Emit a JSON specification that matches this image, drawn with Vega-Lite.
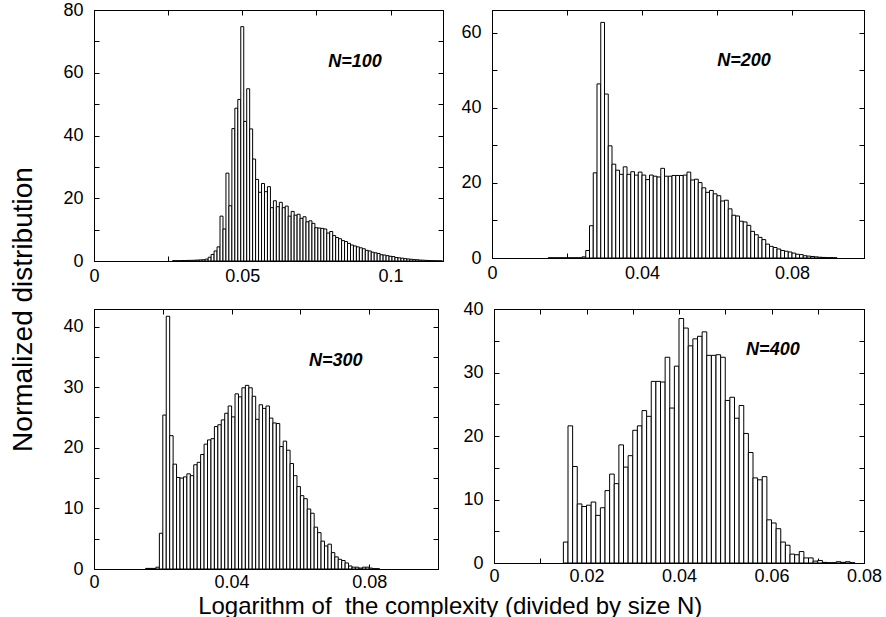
{
"$schema": "https://vega.github.io/schema/vega-lite/v6.json",
"padding": {"left": 10, "top": 0, "right": 0, "bottom": 0},
"background": "white",
"title": {"text": "Normalized distribution", "orient": "left", "anchor": "middle", "fontSize": 28, "font": "Liberation Sans", "fontWeight": "normal", "color": "black", "offset": 24},
"datasets": {
"n100": [
{"lo":0.0265,"hi":0.0275,"v":0.1},{"lo":0.0275,"hi":0.0285,"v":0.1},{"lo":0.0285,"hi":0.0295,"v":0.1},{"lo":0.0295,"hi":0.0305,"v":0.15},{"lo":0.0305,"hi":0.0315,"v":0.15},{"lo":0.0315,"hi":0.0325,"v":0.2},{"lo":0.0325,"hi":0.0335,"v":0.2},{"lo":0.0335,"hi":0.0345,"v":0.25},{"lo":0.0345,"hi":0.0355,"v":0.3},{"lo":0.0355,"hi":0.0365,"v":0.35},{"lo":0.0365,"hi":0.0375,"v":0.4},
{"lo":0.0375,"hi":0.0385,"v":0.6},{"lo":0.0385,"hi":0.0395,"v":1.2},{"lo":0.0395,"hi":0.0405,"v":2.1},{"lo":0.0405,"hi":0.0415,"v":3.2},{"lo":0.0415,"hi":0.0425,"v":4.5},{"lo":0.0425,"hi":0.0435,"v":14.3},{"lo":0.0435,"hi":0.0445,"v":10.2},{"lo":0.0445,"hi":0.0455,"v":28},{"lo":0.0455,"hi":0.0465,"v":17.6},{"lo":0.0465,"hi":0.0475,"v":42.2},
{"lo":0.0475,"hi":0.0485,"v":48.7},{"lo":0.0485,"hi":0.0495,"v":51.5},{"lo":0.0495,"hi":0.0505,"v":74.7},{"lo":0.0505,"hi":0.0515,"v":44.5},{"lo":0.0515,"hi":0.0525,"v":54.9},{"lo":0.0525,"hi":0.0535,"v":42.1},{"lo":0.0535,"hi":0.0545,"v":32.5},{"lo":0.0545,"hi":0.0555,"v":26.0},{"lo":0.0555,"hi":0.0565,"v":21.9},{"lo":0.0565,"hi":0.0575,"v":24.7},
{"lo":0.0575,"hi":0.0585,"v":22.1},{"lo":0.0585,"hi":0.0595,"v":23.7},{"lo":0.0595,"hi":0.0605,"v":17.0},{"lo":0.0605,"hi":0.0615,"v":19.2},{"lo":0.0615,"hi":0.0625,"v":17.3},{"lo":0.0625,"hi":0.0635,"v":18.7},{"lo":0.0635,"hi":0.0645,"v":17.0},{"lo":0.0645,"hi":0.0655,"v":17.5},{"lo":0.0655,"hi":0.0665,"v":14.3},{"lo":0.0665,"hi":0.0675,"v":15.8},
{"lo":0.0675,"hi":0.0685,"v":14.6},{"lo":0.0685,"hi":0.0695,"v":14.9},{"lo":0.0695,"hi":0.0705,"v":13.6},{"lo":0.0705,"hi":0.0715,"v":14.1},{"lo":0.0715,"hi":0.0725,"v":12.5},{"lo":0.0725,"hi":0.0735,"v":12.8},{"lo":0.0735,"hi":0.0745,"v":12.0},{"lo":0.0745,"hi":0.0755,"v":10.6},{"lo":0.0755,"hi":0.0765,"v":10.5},{"lo":0.0765,"hi":0.0775,"v":10.4},
{"lo":0.0775,"hi":0.0785,"v":10.2},{"lo":0.0785,"hi":0.0795,"v":8.9},{"lo":0.0795,"hi":0.0805,"v":9.4},{"lo":0.0805,"hi":0.0815,"v":8.1},{"lo":0.0815,"hi":0.0825,"v":7.5},{"lo":0.0825,"hi":0.0835,"v":7.1},{"lo":0.0835,"hi":0.0845,"v":6.5},{"lo":0.0845,"hi":0.0855,"v":6.2},{"lo":0.0855,"hi":0.0865,"v":5.6},{"lo":0.0865,"hi":0.0875,"v":5.1},
{"lo":0.0875,"hi":0.0885,"v":4.8},{"lo":0.0885,"hi":0.0895,"v":4.5},{"lo":0.0895,"hi":0.0905,"v":4.2},{"lo":0.0905,"hi":0.0915,"v":3.9},{"lo":0.0915,"hi":0.0925,"v":3.4},{"lo":0.0925,"hi":0.0935,"v":3.2},{"lo":0.0935,"hi":0.0945,"v":2.8},{"lo":0.0945,"hi":0.0955,"v":2.6},{"lo":0.0955,"hi":0.0965,"v":2.4},{"lo":0.0965,"hi":0.0975,"v":2.0},
{"lo":0.0975,"hi":0.0985,"v":1.9},{"lo":0.0985,"hi":0.0995,"v":1.7},{"lo":0.0995,"hi":0.1005,"v":1.5},{"lo":0.1005,"hi":0.1015,"v":1.4},{"lo":0.1015,"hi":0.1025,"v":1.1},{"lo":0.1025,"hi":0.1035,"v":1.0},{"lo":0.1035,"hi":0.1045,"v":0.9},{"lo":0.1045,"hi":0.1055,"v":0.75},{"lo":0.1055,"hi":0.1065,"v":0.65},{"lo":0.1065,"hi":0.1075,"v":0.55},
{"lo":0.1075,"hi":0.1085,"v":0.45},{"lo":0.1085,"hi":0.1095,"v":0.4},{"lo":0.1095,"hi":0.1105,"v":0.3},{"lo":0.1105,"hi":0.1115,"v":0.25},{"lo":0.1115,"hi":0.1125,"v":0.2},{"lo":0.1125,"hi":0.1135,"v":0.15},{"lo":0.1135,"hi":0.1145,"v":0.1},{"lo":0.1145,"hi":0.1155,"v":0.08},{"lo":0.1155,"hi":0.1165,"v":0.05},{"lo":0.1165,"hi":0.1175,"v":0.04}
],
"n200": [
{"lo":0.015,"hi":0.016,"v":0.05},{"lo":0.016,"hi":0.017,"v":0.05},{"lo":0.017,"hi":0.018,"v":0.05},{"lo":0.018,"hi":0.019,"v":0.05},{"lo":0.019,"hi":0.020,"v":0.05},{"lo":0.020,"hi":0.021,"v":0.05},{"lo":0.021,"hi":0.022,"v":0.05},{"lo":0.022,"hi":0.023,"v":0.05},{"lo":0.023,"hi":0.024,"v":0.05},{"lo":0.024,"hi":0.025,"v":0.3},
{"lo":0.025,"hi":0.026,"v":2.0},{"lo":0.026,"hi":0.027,"v":8.6},{"lo":0.027,"hi":0.028,"v":22.7},{"lo":0.028,"hi":0.029,"v":46.4},{"lo":0.029,"hi":0.030,"v":62.8},{"lo":0.030,"hi":0.031,"v":43.7},{"lo":0.031,"hi":0.032,"v":29.9},{"lo":0.032,"hi":0.033,"v":25.0},{"lo":0.033,"hi":0.034,"v":23.4},{"lo":0.034,"hi":0.035,"v":22.3},
{"lo":0.035,"hi":0.036,"v":24.3},{"lo":0.036,"hi":0.037,"v":22.3},{"lo":0.037,"hi":0.038,"v":23.0},{"lo":0.038,"hi":0.039,"v":22.1},{"lo":0.039,"hi":0.040,"v":22.9},{"lo":0.040,"hi":0.041,"v":22.1},{"lo":0.041,"hi":0.042,"v":20.9},{"lo":0.042,"hi":0.043,"v":22.1},{"lo":0.043,"hi":0.044,"v":21.8},{"lo":0.044,"hi":0.045,"v":21.6},
{"lo":0.045,"hi":0.046,"v":23.9},{"lo":0.046,"hi":0.047,"v":21.8},{"lo":0.047,"hi":0.048,"v":21.8},{"lo":0.048,"hi":0.049,"v":22.0},{"lo":0.049,"hi":0.050,"v":22.0},{"lo":0.050,"hi":0.051,"v":22.0},{"lo":0.051,"hi":0.052,"v":22.1},{"lo":0.052,"hi":0.053,"v":22.9},{"lo":0.053,"hi":0.054,"v":20.8},{"lo":0.054,"hi":0.055,"v":21.0},
{"lo":0.055,"hi":0.056,"v":20.1},{"lo":0.056,"hi":0.057,"v":18.7},{"lo":0.057,"hi":0.058,"v":17.5},{"lo":0.058,"hi":0.059,"v":18.0},{"lo":0.059,"hi":0.060,"v":17.1},{"lo":0.060,"hi":0.061,"v":16.6},{"lo":0.061,"hi":0.062,"v":15.2},{"lo":0.062,"hi":0.063,"v":15.4},{"lo":0.063,"hi":0.064,"v":13.1},{"lo":0.064,"hi":0.065,"v":11.4},
{"lo":0.065,"hi":0.066,"v":11.2},{"lo":0.066,"hi":0.067,"v":9.8},{"lo":0.067,"hi":0.068,"v":9.6},{"lo":0.068,"hi":0.069,"v":8.7},{"lo":0.069,"hi":0.070,"v":7.1},{"lo":0.070,"hi":0.071,"v":6.2},{"lo":0.071,"hi":0.072,"v":5.5},{"lo":0.072,"hi":0.073,"v":4.9},{"lo":0.073,"hi":0.074,"v":3.7},{"lo":0.074,"hi":0.075,"v":3.1},
{"lo":0.075,"hi":0.076,"v":2.8},{"lo":0.076,"hi":0.077,"v":2.4},{"lo":0.077,"hi":0.078,"v":2.0},{"lo":0.078,"hi":0.079,"v":1.8},{"lo":0.079,"hi":0.080,"v":1.6},{"lo":0.080,"hi":0.081,"v":1.3},{"lo":0.081,"hi":0.082,"v":1.0},{"lo":0.082,"hi":0.083,"v":0.9},{"lo":0.083,"hi":0.084,"v":0.6},{"lo":0.084,"hi":0.085,"v":0.5},
{"lo":0.085,"hi":0.086,"v":0.4},{"lo":0.086,"hi":0.087,"v":0.3},{"lo":0.087,"hi":0.088,"v":0.2},{"lo":0.088,"hi":0.089,"v":0.15},{"lo":0.089,"hi":0.090,"v":0.1},{"lo":0.090,"hi":0.091,"v":0.1},{"lo":0.091,"hi":0.092,"v":0.05}
],
"n300": [
{"lo":0.015,"hi":0.016,"v":0.1},{"lo":0.016,"hi":0.017,"v":0.1},{"lo":0.017,"hi":0.018,"v":0.1},{"lo":0.018,"hi":0.019,"v":0.3},{"lo":0.019,"hi":0.020,"v":5.9},{"lo":0.020,"hi":0.021,"v":25.4},{"lo":0.021,"hi":0.022,"v":41.7},{"lo":0.022,"hi":0.023,"v":22.0},{"lo":0.023,"hi":0.024,"v":17.3},{"lo":0.024,"hi":0.025,"v":15.1},
{"lo":0.025,"hi":0.026,"v":15.0},{"lo":0.026,"hi":0.027,"v":15.2},{"lo":0.027,"hi":0.028,"v":15.7},{"lo":0.028,"hi":0.029,"v":15.4},{"lo":0.029,"hi":0.030,"v":17.2},{"lo":0.030,"hi":0.031,"v":17.6},{"lo":0.031,"hi":0.032,"v":18.9},{"lo":0.032,"hi":0.033,"v":20.6},{"lo":0.033,"hi":0.034,"v":21.3},{"lo":0.034,"hi":0.035,"v":21.5},
{"lo":0.035,"hi":0.036,"v":23.5},{"lo":0.036,"hi":0.037,"v":23.8},{"lo":0.037,"hi":0.038,"v":24.6},{"lo":0.038,"hi":0.039,"v":25.7},{"lo":0.039,"hi":0.040,"v":26.9},{"lo":0.040,"hi":0.041,"v":25.1},{"lo":0.041,"hi":0.042,"v":28.9},{"lo":0.042,"hi":0.043,"v":28.4},{"lo":0.043,"hi":0.044,"v":29.9},{"lo":0.044,"hi":0.045,"v":30.3},
{"lo":0.045,"hi":0.046,"v":29.9},{"lo":0.046,"hi":0.047,"v":28.5},{"lo":0.047,"hi":0.048,"v":24.7},{"lo":0.048,"hi":0.049,"v":27.1},{"lo":0.049,"hi":0.050,"v":26.5},{"lo":0.050,"hi":0.051,"v":26.9},{"lo":0.051,"hi":0.052,"v":24.9},{"lo":0.052,"hi":0.053,"v":24.1},{"lo":0.053,"hi":0.054,"v":24.0},{"lo":0.054,"hi":0.055,"v":20.2},
{"lo":0.055,"hi":0.056,"v":21.1},{"lo":0.056,"hi":0.057,"v":19.6},{"lo":0.057,"hi":0.058,"v":17.4},{"lo":0.058,"hi":0.059,"v":15.4},{"lo":0.059,"hi":0.060,"v":13.6},{"lo":0.060,"hi":0.061,"v":12.1},{"lo":0.061,"hi":0.062,"v":11.6},{"lo":0.062,"hi":0.063,"v":9.9},{"lo":0.063,"hi":0.064,"v":9.2},{"lo":0.064,"hi":0.065,"v":6.9},
{"lo":0.065,"hi":0.066,"v":6.0},{"lo":0.066,"hi":0.067,"v":4.6},{"lo":0.067,"hi":0.068,"v":3.8},{"lo":0.068,"hi":0.069,"v":4.1},{"lo":0.069,"hi":0.070,"v":2.7},{"lo":0.070,"hi":0.071,"v":2.0},{"lo":0.071,"hi":0.072,"v":1.6},{"lo":0.072,"hi":0.073,"v":1.4},{"lo":0.073,"hi":0.074,"v":1.0},{"lo":0.074,"hi":0.075,"v":0.5},
{"lo":0.075,"hi":0.076,"v":0.3},{"lo":0.076,"hi":0.077,"v":0.3},{"lo":0.077,"hi":0.078,"v":0.15},{"lo":0.078,"hi":0.079,"v":0.3},{"lo":0.079,"hi":0.080,"v":0.3},{"lo":0.080,"hi":0.081,"v":0.15},{"lo":0.081,"hi":0.082,"v":0.05},{"lo":0.082,"hi":0.083,"v":0.05}
],
"n400": [
{"lo":0.015,"hi":0.016,"v":3.3},{"lo":0.016,"hi":0.017,"v":21.6},{"lo":0.017,"hi":0.018,"v":15.2},{"lo":0.018,"hi":0.019,"v":9.3},{"lo":0.019,"hi":0.020,"v":8.9},{"lo":0.020,"hi":0.021,"v":9.1},{"lo":0.021,"hi":0.022,"v":9.6},{"lo":0.022,"hi":0.023,"v":7.5},{"lo":0.023,"hi":0.024,"v":8.7},{"lo":0.024,"hi":0.025,"v":11.4},
{"lo":0.025,"hi":0.026,"v":14.0},{"lo":0.026,"hi":0.027,"v":12.5},{"lo":0.027,"hi":0.028,"v":18.6},{"lo":0.028,"hi":0.029,"v":15.1},{"lo":0.029,"hi":0.030,"v":16.9},{"lo":0.030,"hi":0.031,"v":20.9},{"lo":0.031,"hi":0.032,"v":21.6},{"lo":0.032,"hi":0.033,"v":24.0},{"lo":0.033,"hi":0.034,"v":23.1},{"lo":0.034,"hi":0.035,"v":28.6},
{"lo":0.035,"hi":0.036,"v":28.6},{"lo":0.036,"hi":0.037,"v":28.5},{"lo":0.037,"hi":0.038,"v":32.4},{"lo":0.038,"hi":0.039,"v":24.4},{"lo":0.039,"hi":0.040,"v":31.0},{"lo":0.040,"hi":0.041,"v":38.5},{"lo":0.041,"hi":0.042,"v":37.0},{"lo":0.042,"hi":0.043,"v":34.2},{"lo":0.043,"hi":0.044,"v":35.3},{"lo":0.044,"hi":0.045,"v":35.7},
{"lo":0.045,"hi":0.046,"v":36.4},{"lo":0.046,"hi":0.047,"v":32.7},{"lo":0.047,"hi":0.048,"v":32.7},{"lo":0.048,"hi":0.049,"v":32.8},{"lo":0.049,"hi":0.050,"v":32.4},{"lo":0.050,"hi":0.051,"v":25.6},{"lo":0.051,"hi":0.052,"v":26.1},{"lo":0.052,"hi":0.053,"v":22.8},{"lo":0.053,"hi":0.054,"v":24.8},{"lo":0.054,"hi":0.055,"v":20.4},
{"lo":0.055,"hi":0.056,"v":17.4},{"lo":0.056,"hi":0.057,"v":13.4},{"lo":0.057,"hi":0.058,"v":13.1},{"lo":0.058,"hi":0.059,"v":13.6},{"lo":0.059,"hi":0.060,"v":6.8},{"lo":0.060,"hi":0.061,"v":6.3},{"lo":0.061,"hi":0.062,"v":5.4},{"lo":0.062,"hi":0.063,"v":3.3},{"lo":0.063,"hi":0.064,"v":2.8},{"lo":0.064,"hi":0.065,"v":1.4},
{"lo":0.065,"hi":0.066,"v":1.3},{"lo":0.066,"hi":0.067,"v":1.8},{"lo":0.067,"hi":0.068,"v":0.8},{"lo":0.068,"hi":0.069,"v":0.8},{"lo":0.069,"hi":0.070,"v":0.3},{"lo":0.070,"hi":0.071,"v":0.4},{"lo":0.071,"hi":0.072,"v":0.1},{"lo":0.072,"hi":0.073,"v":0.05},{"lo":0.073,"hi":0.074,"v":0.05},{"lo":0.074,"hi":0.075,"v":0.2},
{"lo":0.075,"hi":0.076,"v":0.1},{"lo":0.076,"hi":0.077,"v":0.2},{"lo":0.077,"hi":0.078,"v":0.05}
]
},
"vconcat": [
{
"title": {"text": "Logarithm of \u00a0the complexity (divided by size N)", "orient": "bottom", "anchor": "middle", "fontSize": 24, "font": "Liberation Sans", "fontWeight": "normal", "color": "black", "offset": 3, "dx": -22},
"spacing": 13,
"vconcat": [
{"spacing": 49, "bounds": "flush", "hconcat": [
{"width": 349, "height": 251, "data": {"name": "n100"},
 "layer": [
  {"mark": {"type": "rect", "fill": "white", "stroke": "black", "strokeWidth": 1},
   "encoding": {
    "x": {"field": "lo", "type": "quantitative", "title": null, "scale": {"domain": [0, 0.1177], "nice": false, "zero": false},
          "axis": {"orient": "bottom", "values": [0, 0.025, 0.05, 0.075, 0.1], "labelExpr": "abs(datum.value*20 - round(datum.value*20)) < 0.01 ? format(datum.value, '~g') : ''"}},
    "x2": {"field": "hi"},
    "y": {"field": "v", "type": "quantitative", "title": null, "scale": {"domain": [0, 80], "nice": false},
          "axis": {"orient": "left", "values": [0,10,20,30,40,50,60,70,80], "labelExpr": "datum.value % 20 == 0 ? datum.label : ''"}},
    "y2": {"datum": 0}}},
  {"mark": {"type": "rect", "opacity": 0},
   "encoding": {
    "x": {"field": "lo", "type": "quantitative", "title": null, "axis": {"orient": "top", "labels": false, "values": [0, 0.025, 0.05, 0.075, 0.1]}},
    "x2": {"field": "hi"},
    "y": {"field": "v", "type": "quantitative", "title": null, "axis": {"orient": "right", "labels": false, "values": [0,10,20,30,40,50,60,70,80]}},
    "y2": {"datum": 0}}},
  {"data": {"values": [{"x": 0.088, "y": 63.4, "t": "N=100"}]},
   "mark": {"type": "text", "font": "Liberation Sans", "fontSize": 18, "fontWeight": "bold", "fontStyle": "italic", "align": "center", "baseline": "middle", "color": "black"},
   "encoding": {"x": {"field": "x", "type": "quantitative", "axis": null}, "y": {"field": "y", "type": "quantitative", "axis": null}, "text": {"field": "t"}}}
 ],
 "resolve": {"axis": {"x": "independent", "y": "independent"}}},
{"width": 372, "height": 248, "data": {"name": "n200"},
 "layer": [
  {"mark": {"type": "rect", "fill": "white", "stroke": "black", "strokeWidth": 1},
   "encoding": {
    "x": {"field": "lo", "type": "quantitative", "title": null, "scale": {"domain": [0, 0.0992], "nice": false, "zero": false},
          "axis": {"orient": "bottom", "values": [0, 0.02, 0.04, 0.06, 0.08], "labelExpr": "abs(datum.value*25 - round(datum.value*25)) < 0.01 ? format(datum.value, '~g') : ''"}},
    "x2": {"field": "hi"},
    "y": {"field": "v", "type": "quantitative", "title": null, "scale": {"domain": [0, 66.1], "nice": false},
          "axis": {"orient": "left", "values": [0,10,20,30,40,50,60], "labelExpr": "datum.value % 20 == 0 ? datum.label : ''"}},
    "y2": {"datum": 0}}},
  {"mark": {"type": "rect", "opacity": 0},
   "encoding": {
    "x": {"field": "lo", "type": "quantitative", "title": null, "axis": {"orient": "top", "labels": false, "values": [0, 0.02, 0.04, 0.06, 0.08]}},
    "x2": {"field": "hi"},
    "y": {"field": "v", "type": "quantitative", "title": null, "axis": {"orient": "right", "labels": false, "values": [0,10,20,30,40,50,60]}},
    "y2": {"datum": 0}}},
  {"data": {"values": [{"x": 0.0672, "y": 52.6, "t": "N=200"}]},
   "mark": {"type": "text", "font": "Liberation Sans", "fontSize": 18, "fontWeight": "bold", "fontStyle": "italic", "align": "center", "baseline": "middle", "color": "black"},
   "encoding": {"x": {"field": "x", "type": "quantitative", "axis": null}, "y": {"field": "y", "type": "quantitative", "axis": null}, "text": {"field": "t"}}}
 ],
 "resolve": {"axis": {"x": "independent", "y": "independent"}}}
]},
{"spacing": 56, "bounds": "flush", "hconcat": [
{"width": 344, "height": 260, "data": {"name": "n300"},
 "layer": [
  {"mark": {"type": "rect", "fill": "white", "stroke": "black", "strokeWidth": 1},
   "encoding": {
    "x": {"field": "lo", "type": "quantitative", "title": null, "scale": {"domain": [0, 0.1], "nice": false, "zero": false},
          "axis": {"orient": "bottom", "labelPadding": 9, "values": [0, 0.02, 0.04, 0.06, 0.08], "labelExpr": "abs(datum.value*25 - round(datum.value*25)) < 0.01 ? format(datum.value, '~g') : ''"}},
    "x2": {"field": "hi"},
    "y": {"field": "v", "type": "quantitative", "title": null, "scale": {"domain": [0, 42.9], "nice": false},
          "axis": {"orient": "left", "values": [0,5,10,15,20,25,30,35,40], "labelExpr": "datum.value % 10 == 0 ? datum.label : ''"}},
    "y2": {"datum": 0}}},
  {"mark": {"type": "rect", "opacity": 0},
   "encoding": {
    "x": {"field": "lo", "type": "quantitative", "title": null, "axis": {"orient": "top", "labels": false, "values": [0, 0.02, 0.04, 0.06, 0.08]}},
    "x2": {"field": "hi"},
    "y": {"field": "v", "type": "quantitative", "title": null, "axis": {"orient": "right", "labels": false, "values": [0,5,10,15,20,25,30,35,40]}},
    "y2": {"datum": 0}}},
  {"data": {"values": [{"x": 0.0703, "y": 34.4, "t": "N=300"}]},
   "mark": {"type": "text", "font": "Liberation Sans", "fontSize": 18, "fontWeight": "bold", "fontStyle": "italic", "align": "center", "baseline": "middle", "color": "black"},
   "encoding": {"x": {"field": "x", "type": "quantitative", "axis": null}, "y": {"field": "y", "type": "quantitative", "axis": null}, "text": {"field": "t"}}}
 ],
 "resolve": {"axis": {"x": "independent", "y": "independent"}}},
{"width": 370, "height": 254, "data": {"name": "n400"},
 "layer": [
  {"mark": {"type": "rect", "fill": "white", "stroke": "black", "strokeWidth": 1},
   "encoding": {
    "x": {"field": "lo", "type": "quantitative", "title": null, "scale": {"domain": [0, 0.08], "nice": false, "zero": false},
          "axis": {"orient": "bottom", "labelPadding": 9, "values": [0, 0.01, 0.02, 0.03, 0.04, 0.05, 0.06, 0.07, 0.08], "labelExpr": "abs(datum.value*50 - round(datum.value*50)) < 0.01 ? format(datum.value, '~g') : ''"}},
    "x2": {"field": "hi"},
    "y": {"field": "v", "type": "quantitative", "title": null, "scale": {"domain": [0, 40], "nice": false},
          "axis": {"orient": "left", "values": [0,5,10,15,20,25,30,35,40], "labelExpr": "datum.value % 10 == 0 ? datum.label : ''"}},
    "y2": {"datum": 0}}},
  {"mark": {"type": "rect", "opacity": 0},
   "encoding": {
    "x": {"field": "lo", "type": "quantitative", "title": null, "axis": {"orient": "top", "labels": false, "values": [0, 0.01, 0.02, 0.03, 0.04, 0.05, 0.06, 0.07, 0.08]}},
    "x2": {"field": "hi"},
    "y": {"field": "v", "type": "quantitative", "title": null, "axis": {"orient": "right", "labels": false, "values": [0,5,10,15,20,25,30,35,40]}},
    "y2": {"datum": 0}}},
  {"data": {"values": [{"x": 0.0603, "y": 33.5, "t": "N=400"}]},
   "mark": {"type": "text", "font": "Liberation Sans", "fontSize": 18, "fontWeight": "bold", "fontStyle": "italic", "align": "center", "baseline": "middle", "color": "black"},
   "encoding": {"x": {"field": "x", "type": "quantitative", "axis": null}, "y": {"field": "y", "type": "quantitative", "axis": null}, "text": {"field": "t"}}}
 ],
 "resolve": {"axis": {"x": "independent", "y": "independent"}}}
]}
]
}
],
"config": {
 "view": {"stroke": "black", "strokeWidth": 1},
 "font": "Liberation Sans",
 "axis": {"grid": false, "domainColor": "black", "domainWidth": 1, "tickColor": "black", "tickWidth": 1, "tickSize": -5, "labelColor": "black", "labelFont": "Liberation Sans", "labelFontSize": 18, "labelFlush": false, "labelOverlap": false, "labelBound": false},
 "axisX": {"labelPadding": 11},
 "axisY": {"labelPadding": 16}
}
}
